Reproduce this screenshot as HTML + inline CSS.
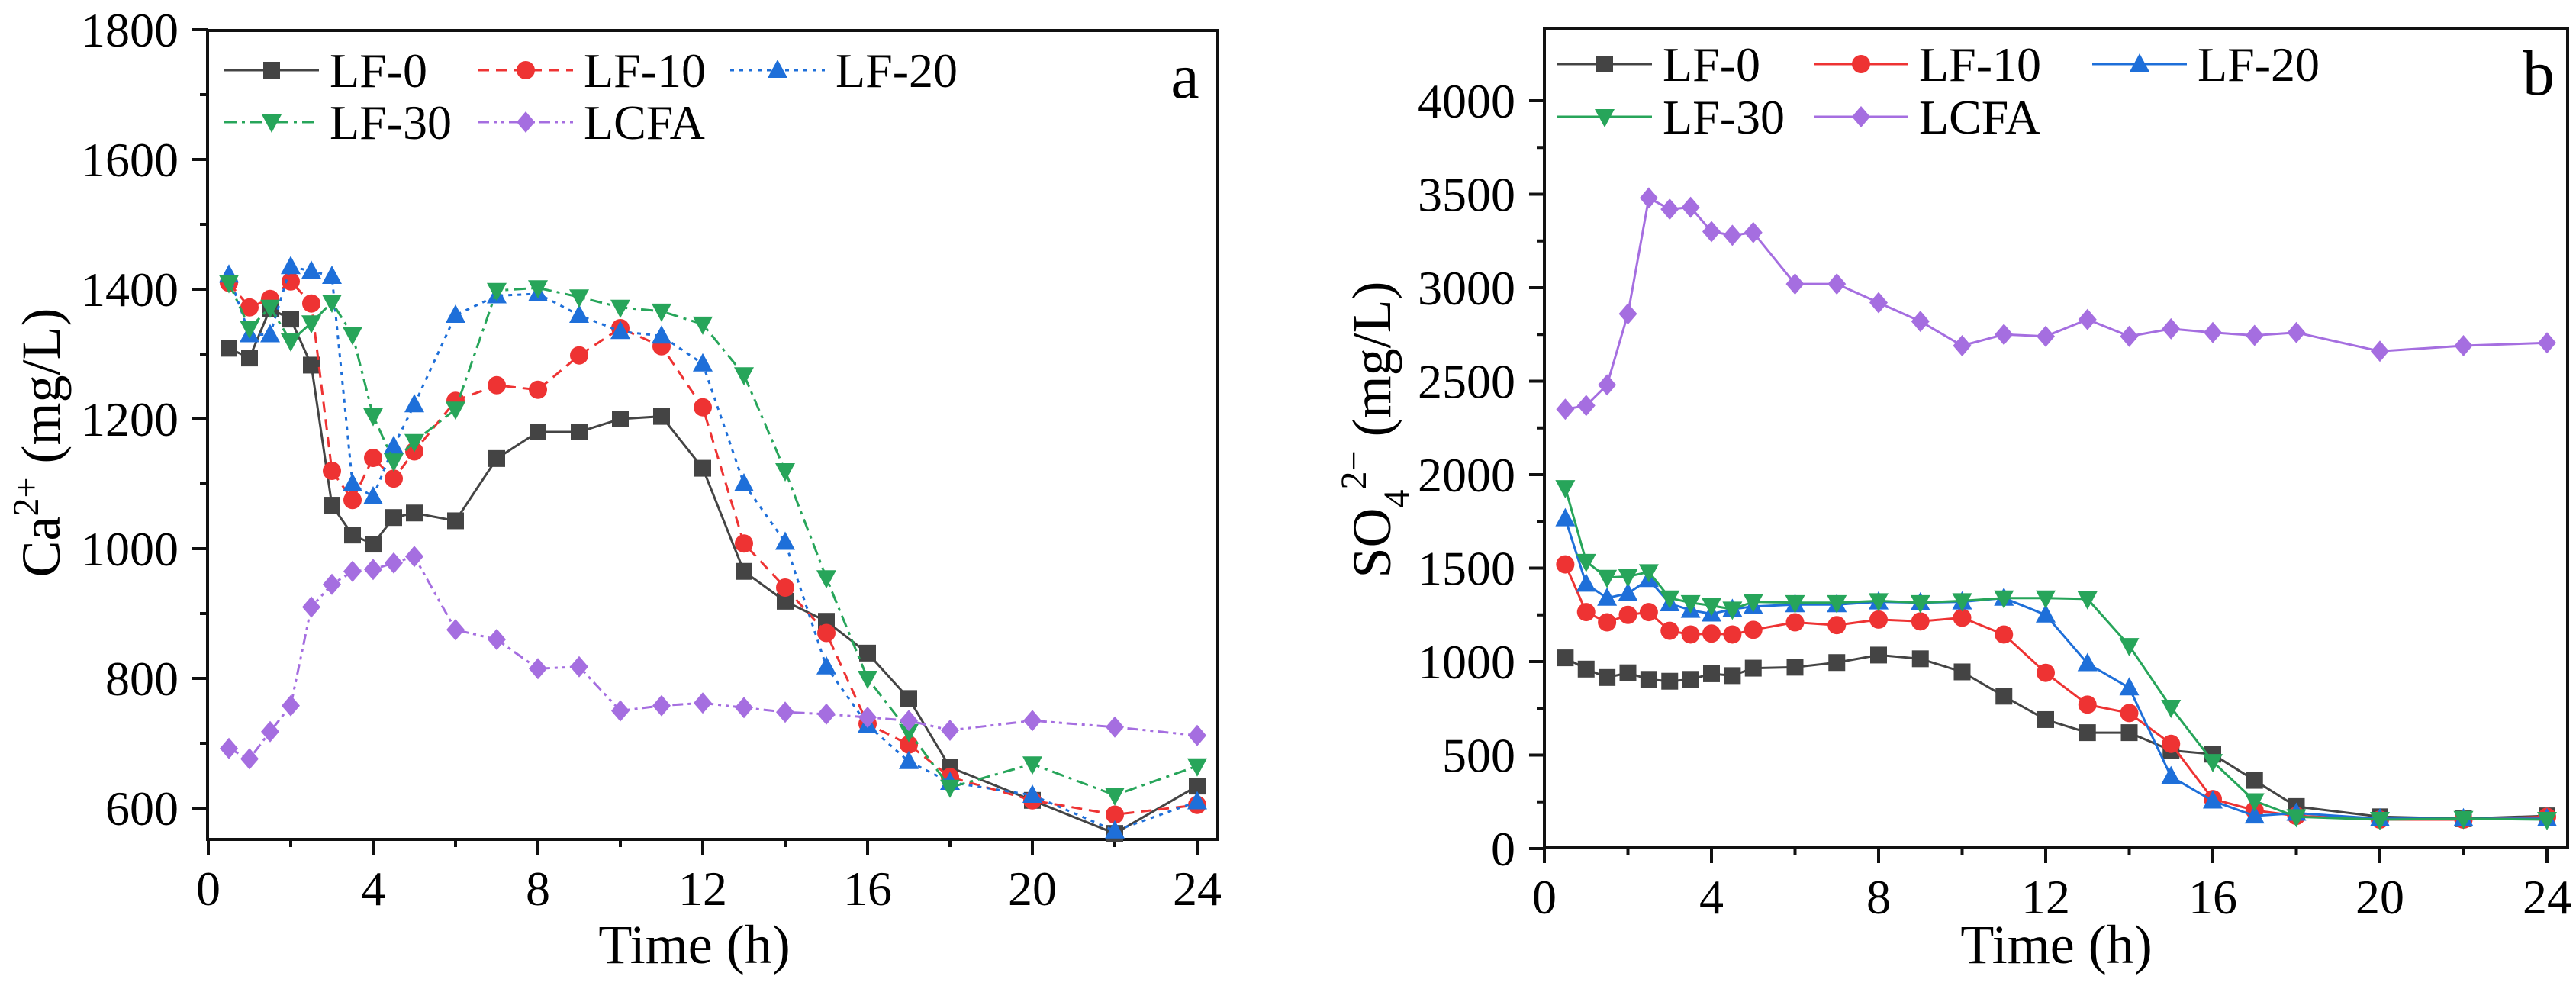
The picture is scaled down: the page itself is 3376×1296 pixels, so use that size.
<!DOCTYPE html>
<html><head><meta charset="utf-8">
<style>
html,body{margin:0;padding:0;background:#fff;}
svg, svg text{font-family:"Liberation Serif","Times New Roman",Times,serif;}
</style></head>
<body>
<svg id="fig" width="3376" height="1291" viewBox="0 0 3376 1291" xmlns="http://www.w3.org/2000/svg" font-family="Liberation Serif, Times New Roman, serif"></svg>
<script>
const times = [0.5,1,1.5,2,2.5,3,3.5,4,4.5,5,6,7,8,9,10,11,12,13,14,15,16,17,18,20,22,24];
const seriesNames = ["LF-0","LF-10","LF-20","LF-30","LCFA"];
const caLF0  = [1309,1294,1370,1354,1283,1067,1021,1007,1048,1055,1043,1139,1180,1180,1200,1204,1124,965,919,888,839,769,663,612,561,634];
const caLF10 = [1410,1372,1385,1412,1378,1120,1075,1140,1108,1150,1228,1252,1245,1298,1340,1312,1218,1008,940,870,730,698,648,612,590,605];
const caLF20 = [1422,1330,1330,1435,1428,1420,1100,1080,1158,1222,1360,1390,1393,1360,1335,1328,1285,1100,1010,818,728,672,640,620,565,610];
const caLF30 = [1410,1340,1372,1320,1348,1380,1330,1205,1135,1165,1215,1398,1402,1388,1372,1366,1346,1268,1120,955,800,718,632,668,620,665];
const caLCFA = [692,676,718,758,910,945,965,968,978,988,875,860,815,818,750,758,762,755,748,745,740,735,720,735,725,712];
const soLF0  = [1020,960,915,940,905,895,905,935,925,965,970,995,1035,1015,945,815,690,620,620,525,505,365,225,170,160,175];
const soLF10 = [1520,1265,1210,1250,1265,1165,1145,1150,1145,1170,1210,1195,1225,1215,1235,1145,940,770,725,560,265,205,175,155,155,170];
const soLF20 = [1765,1415,1340,1365,1440,1310,1275,1255,1280,1295,1305,1305,1320,1315,1320,1340,1250,990,860,385,255,175,190,160,160,160];
const soLF30 = [1930,1535,1450,1455,1480,1340,1315,1300,1280,1320,1315,1315,1325,1315,1325,1340,1340,1335,1085,755,465,255,170,155,160,155];
const soLCFA = [2350,2370,2480,2860,3480,3420,3430,3300,3280,3295,3020,3020,2920,2820,2690,2750,2740,2830,2740,2780,2760,2745,2760,2660,2690,2705];
const xTicks = [0,4,8,12,16,20,24];
const caTicks = [600,800,1000,1200,1400,1600,1800];
const soTicks = [0,500,1000,1500,2000,2500,3000,3500,4000];

const NS="http://www.w3.org/2000/svg";
const FONT="Liberation Serif, Times New Roman, serif";
const svg=document.getElementById('fig');
function mk(tag,attrs,parent){const e=document.createElementNS(NS,tag);for(const k in attrs)e.setAttribute(k,attrs[k]);if(tag==='text')e.setAttribute('font-family',FONT);(parent||svg).appendChild(e);return e;}

const colors=["#444444","#ee3333","#1e6fd9","#27a55a","#a56ee0"];
const markers=["square","circle","tri","tridown","diamond"];
function drawMarker(g,type,x,y,c){
  let e;
  if(type==="square"){e=mk('rect',{x:x-11,y:y-11,width:22,height:22,fill:c},g);}
  else if(type==="circle"){e=mk('circle',{cx:x,cy:y,r:12,fill:c},g);}
  else if(type==="tri"){e=mk('polygon',{points:`${x},${y-14} ${x+13},${y+10} ${x-13},${y+10}`,fill:c},g);}
  else if(type==="tridown"){e=mk('polygon',{points:`${x},${y+14} ${x+13},${y-10} ${x-13},${y-10}`,fill:c},g);}
  else {e=mk('polygon',{points:`${x},${y-14} ${x+12},${y} ${x},${y+14} ${x-12},${y}`,fill:c},g);}
  
  
}

function panel(cfg){
  const g=mk('g',{});
  
  
  const X=v=>cfg.x0+(v-0)/24*(cfg.x24-cfg.x0);
  const Y=v=>cfg.yA+(v-cfg.vA)/(cfg.vB-cfg.vA)*(cfg.yB-cfg.yA);
  const fr=mk('rect',{x:cfg.L,y:cfg.T,width:cfg.R-cfg.L,height:cfg.B-cfg.T,fill:'none',stroke:'#111','stroke-width':4},g);
  
  
  for(let t=0;t<=24;t+=2){
    const major=t%4===0;
    mk('line',{x1:X(t),x2:X(t),y1:cfg.B,y2:cfg.B+(major?20:10),stroke:'#111','stroke-width':4},g);
  }
  xTicks.forEach(t=>{
    const tx=mk('text',{x:X(t),y:cfg.B+86,'font-size':64,'text-anchor':'middle',fill:'#000'},g);
    tx.textContent=t;
    
    
  });
  const step=cfg.ticks[1]-cfg.ticks[0];
  for(let v=cfg.ticks[0];v<=cfg.ticks[cfg.ticks.length-1]+0.1;v+=step/2){
    const yy=Y(v); if(yy<cfg.T-1||yy>cfg.B+1)continue;
    const major=Math.abs((v-cfg.ticks[0])%step)<0.01;
    mk('line',{x1:cfg.L-(major?20:10),x2:cfg.L,y1:yy,y2:yy,stroke:'#111','stroke-width':4},g);
  }
  cfg.ticks.forEach(v=>{
    const tx=mk('text',{x:cfg.L-38,y:Y(v)+22,'font-size':64,'text-anchor':'end',fill:'#000'},g);
    tx.textContent=v;
    
    
  });
  const xt=mk('text',{x:cfg.xtX,y:1262,'font-size':72,'text-anchor':'middle',fill:'#000'},g);
  xt.textContent='Time (h)';
  
  
  const yt=mk('text',{x:0,y:0,'font-size':72,'text-anchor':'middle',fill:'#000',transform:`translate(${cfg.ytX},${cfg.ytY}) rotate(-90)`},g);
  yt.innerHTML=cfg.ytitle;
  
  
  const pl=mk('text',{x:cfg.letterX,y:cfg.letterY,'font-size':84,'text-anchor':'middle',fill:'#000'},g);
  pl.textContent=cfg.letter;
  
  
  cfg.data.forEach((arr,i)=>{
    const sg=mk('g',{},g);
    
    
    const pts=arr.map((v,k)=>X(times[k]).toFixed(1)+','+Y(v).toFixed(1)).join(' ');
    const pl=mk('polyline',{points:pts,fill:'none',stroke:colors[i],'stroke-width':3,'stroke-dasharray':cfg.dash[i]},sg);
    
    
    arr.forEach((v,k)=>drawMarker(sg,markers[i],X(times[k]),Y(v),colors[i]));
  });
  const lg=mk('g',{},g);
  
  
  cfg.leg.forEach((p,i)=>{
    const eg=mk('g',{},lg);
    
    
    mk('line',{x1:p[0],x2:p[0]+124,y1:p[1],y2:p[1],stroke:colors[i],'stroke-width':3,'stroke-dasharray':cfg.dash[i]},eg);
    drawMarker(eg,markers[i],p[0]+62,p[1],colors[i]);
    const t=mk('text',{x:p[0]+138,y:p[1]+22,'font-size':64,fill:'#000'},eg);
    t.textContent=seriesNames[i];
  });
}

panel({name:'panel-a-calcium',L:272,R:1596,T:40,B:1100,x0:273,x24:1569,yA:1059,vA:600,yB:549,vB:1200,
  ticks:caTicks,xtX:910,ytX:78,ytY:580,
  ytitle:'Ca<tspan dy="-28" font-size="48">2+</tspan><tspan dy="28"> (mg/L)</tspan>',
  letter:'a',letterX:1553,letterY:128,
  data:[caLF0,caLF10,caLF20,caLF30,caLCFA],
  dash:['none','14,9','5,7','16,7,4,7','14,6,4,6,4,6'],
  leg:[[294,92],[627,92],[957,92],[294,160],[627,160]]});

panel({name:'panel-b-sulfate',L:2024,R:3365,T:37,B:1111,x0:2024,x24:3338,yA:1112,vA:0,yB:377,vB:3000,
  ticks:soTicks,xtX:2695,ytX:1822,ytY:563,
  ytitle:'SO<tspan dy="24" font-size="48">4</tspan><tspan dy="-56" font-size="48">2−</tspan><tspan dy="32"> (mg/L)</tspan>',
  letter:'b',letterX:3327,letterY:124,
  data:[soLF0,soLF10,soLF20,soLF30,soLCFA],
  dash:['none','none','none','none','none'],
  leg:[[2041,84],[2377,84],[2742,84],[2041,153],[2377,153]]});
</script>
</body></html>
